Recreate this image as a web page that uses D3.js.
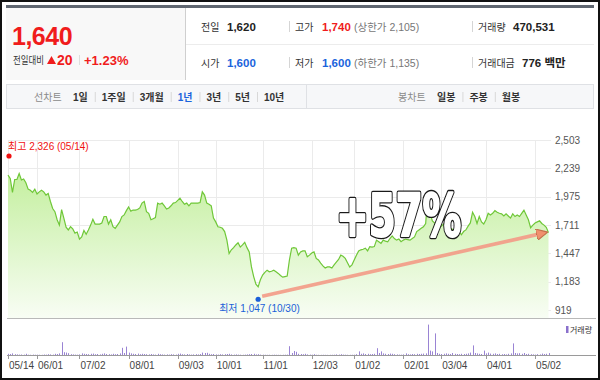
<!DOCTYPE html>
<html>
<head>
<meta charset="utf-8">
<script src="https://cdn.jsdelivr.net/npm/d3@7/dist/d3.min.js"></script>
<style>
body { margin: 0; background: #fff; }
text { font-family: "Liberation Sans", Arial, "Noto Sans CJK KR", sans-serif; }
</style>
</head>
<body>
<script>
const SVG = d3.select("body").append("svg");
const WIDTH = 600;
const HEIGHT = 380;
SVG.attr("width", WIDTH).attr("height", HEIGHT);

// datos: cierre diario (1 año, dias habiles) y volumen (miles de acciones)
const closes = [
  2175,2145,2015,2135,2135,2190,2130,2140,2105,2045,
  2035,2015,2045,2000,2020,2035,2020,1990,2005,1930,
  1865,1835,1760,1710,1855,1775,1690,1665,1695,1675,
  1635,1645,1580,1600,1660,1625,1665,1710,1765,1720,
  1720,1720,1730,1790,1790,1720,1760,1695,1680,1710,
  1740,1790,1805,1845,1880,1840,1850,1850,1855,1870,
  1915,1930,1835,1820,1760,1770,1780,1915,1905,1915,
  1890,1860,1870,1890,1915,1920,1940,1960,1930,1905,
  1915,1890,1915,1915,1915,1915,1920,2020,1990,1915,
  1905,1890,1775,1740,1695,1690,1680,1650,1570,1445,
  1480,1500,1525,1545,1505,1525,1550,1500,1460,1320,
  1230,1160,1135,1200,1245,1270,1290,1275,1280,1290,
  1275,1260,1240,1225,1230,1235,1385,1495,1500,1495,
  1430,1460,1470,1470,1415,1430,1450,1460,1400,1385,
  1355,1330,1310,1320,1320,1310,1340,1365,1390,1430,
  1420,1400,1360,1320,1340,1385,1430,1470,1480,1485,
  1495,1470,1510,1505,1510,1570,1555,1540,1570,1560,
  1555,1585,1610,1585,1570,1580,1555,1570,1580,1575,
  1570,1585,1600,1650,1665,1680,1695,1725,2000,1820,
  1750,1730,1720,1715,1700,1720,1710,1690,1680,1670,
  1660,1665,1650,1620,1650,1665,1700,1730,1830,1790,
  1725,1790,1740,1720,1760,1820,1805,1820,1845,1830,
  1820,1815,1795,1815,1795,1775,1815,1790,1805,1790,
  1820,1850,1805,1760,1685,1710,1730,1740,1750,1725,
  1710,1690,1640
];
const volumes = [
  300,250,400,200,150,100,120,90,300,80,
  60,100,70,80,60,50,120,90,200,150,
  100,300,250,400,3200,700,600,450,200,150,
  100,80,150,400,300,250,200,300,350,200,
  250,150,300,400,250,200,150,300,200,250,
  400,1800,500,2100,600,400,300,250,350,200,
  300,250,200,150,250,150,100,300,200,150,
  100,150,100,200,150,100,300,350,200,150,
  250,150,100,150,200,150,250,600,500,550,
  300,200,250,150,100,200,150,200,250,300,
  150,100,150,100,80,60,100,150,200,250,
  300,150,200,100,80,60,50,60,50,80,
  60,50,40,60,80,100,2200,500,1000,800,
  300,250,200,300,150,100,80,200,60,50,
  40,60,50,40,50,60,80,150,100,200,
  100,80,60,50,60,80,200,900,300,400,
  250,300,200,250,300,1700,500,900,400,300,
  250,350,300,200,150,100,80,150,400,200,
  150,250,200,300,250,300,350,400,7600,1100,
  900,5400,500,300,250,300,400,300,250,500,
  300,250,200,300,250,300,400,600,2400,500,
  400,300,250,1100,400,600,350,300,400,250,
  300,200,250,150,300,400,2900,500,400,450,
  300,500,250,300,200,150,100,200,150,350,
  250,300,470
];
const tickDays = [0, 13, 32, 54, 76, 93, 114, 136, 155, 177, 194, 214, 236];
const tickLabels = ["05/14","06/01","07/02","08/01","09/03","10/01","11/01","12/03","01/02","02/01","03/04","04/01","05/02"];
const priceTicks = [919, 1183, 1447, 1711, 1975, 2239, 2503];

const high = { day: 0, value: 2326, date: "05/14" };
const low = { day: 112, value: 1047, date: "10/30" };
const changeText = "+57%";

// cabecera
const curPrice = "1,640";
const diffValue = "20";
const diffRate = "+1.23%";
const infoLabels = [["전일", "고가", "거래량"], ["시가", "저가", "거래대금"]];
const infoValues = [["1,620", "1,740", "470,531"], ["1,600", "1,600", "776 백만"]];
const infoColors = [["#222", "#f01c1c", "#222"], ["#1a64dc", "#1a64dc", "#222"]];
const limitTexts = ["(상한가 2,105)", "(하한가 1,135)"];
const lineTabs = ["1일", "1주일", "3개월", "1년", "3년", "5년", "10년"];
const candleTabs = ["일봉", "주봉", "월봉"];
const activeTab = "1년";

const RED = "#f01c1c";
const BLUE = "#1a64dc";

// marco
SVG.append("rect").attr("x", 1).attr("y", 1).attr("width", WIDTH - 2).attr("height", HEIGHT - 2)
  .attr("fill", "#fff").attr("stroke", "#111").attr("stroke-width", 2);
SVG.append("rect").attr("x", 6).attr("y", 5).attr("width", 588).attr("height", 3).attr("fill", "#5f6670");

dibujarCabecera();
dibujarTabs();
dibujarGrafico();

function dibujarCabecera() {
  const g = SVG.append("g");
  g.append("rect").attr("x", 6).attr("y", 8).attr("width", 179).attr("height", 72).attr("fill", "#f8f8f8");
  g.append("line").attr("x1", 185.5).attr("x2", 185.5).attr("y1", 8).attr("y2", 80).attr("stroke", "#cfcfcf");
  g.append("line").attr("x1", 186).attr("x2", 594).attr("y1", 44.5).attr("y2", 44.5).attr("stroke", "#ececec");

  g.append("text").attr("x", 12).attr("y", 45).text(curPrice)
    .attr("fill", RED).style("font-size", "25px").style("font-weight", "bold").style("letter-spacing", "-0.5px");
  g.append("text").attr("x", 13).attr("y", 64).text("전일대비")
    .attr("fill", "#333").style("font-size", "10px")
    .attr("textLength", 31).attr("lengthAdjust", "spacingAndGlyphs");
  // triangulo de subida
  g.append("path").attr("d", "M51.5,56 L56,64 L47,64 Z").attr("fill", RED);
  g.append("text").attr("x", 57).attr("y", 65).text(diffValue)
    .attr("fill", RED).style("font-size", "14px").style("font-weight", "bold");
  g.append("line").attr("x1", 79.5).attr("x2", 79.5).attr("y1", 55).attr("y2", 65).attr("stroke", "#ddd");
  g.append("text").attr("x", 84).attr("y", 65).text(diffRate)
    .attr("fill", RED).style("font-size", "13px").style("font-weight", "bold");

  const colX = [201, 295, 478];
  const valX = [227, 322, 513];
  const rowY = [31, 67];
  infoLabels.forEach((row, r) => {
    row.forEach((lab, c) => {
      g.append("text").attr("x", colX[c]).attr("y", rowY[r]).text(lab)
        .attr("fill", "#333").style("font-size", "10px");
      const vx = (r == 1 && c == 2) ? 522 : valX[c];
      g.append("text").attr("x", vx).attr("y", rowY[r]).text(infoValues[r][c])
        .attr("fill", infoColors[r][c]).style("font-size", "11.5px").style("font-weight", "bold");
      if (c > 0) {
        g.append("line").attr("x1", colX[c] - 5.5).attr("x2", colX[c] - 5.5)
          .attr("y1", rowY[r] - 10).attr("y2", rowY[r] + 1).attr("stroke", "#d5d5d5");
      }
    });
    g.append("text").attr("x", 354).attr("y", rowY[r]).text(limitTexts[r])
      .attr("fill", "#777").style("font-size", "10.5px");
  });
}

function dibujarTabs() {
  const g = SVG.append("g");
  g.append("rect").attr("x", 6.5).attr("y", 84.5).attr("width", 587).attr("height", 24)
    .attr("fill", "#f6f7f9").attr("stroke", "#dfe1e5");
  g.append("line").attr("x1", 306.5).attr("x2", 306.5).attr("y1", 85).attr("y2", 108).attr("stroke", "#dfe1e5");

  function fila(titulo, tx, items, startX) {
    g.append("text").attr("x", tx).attr("y", 101).text(titulo)
      .attr("fill", "#8a8a8a").style("font-size", "10px");
    let x = startX;
    items.forEach((it, i) => {
      const t = g.append("text").attr("x", x).attr("y", 101).text(it)
        .attr("fill", it == activeTab ? BLUE : "#333")
        .style("font-size", "10px").style("font-weight", "bold");
      const w = t.node().getComputedTextLength();
      if (i < items.length - 1) {
        g.append("line").attr("x1", x + w + 7.5).attr("x2", x + w + 7.5).attr("y1", 92).attr("y2", 102)
          .attr("stroke", "#d8d8d8");
      }
      x += w + 14;
    });
  }
  fila("선차트", 34, lineTabs, 73);
  fila("봉차트", 398, candleTabs, 437);
}

function dibujarGrafico() {
  const x = d3.scaleLinear().domain([0, closes.length - 1]).range([8, 548.5]);
  const y = d3.scaleLinear().domain([919, 2503]).range([310, 140]);
  const yVol = d3.scaleLinear().domain([0, 8000]).range([355, 323]);

  const g = SVG.append("g");

  // grilla
  g.selectAll(".hgrid").data(priceTicks).join("line")
    .attr("x1", 8).attr("x2", 551)
    .attr("y1", d => Math.round(y(d)) + 0.5).attr("y2", d => Math.round(y(d)) + 0.5)
    .attr("stroke", "#ebebeb");
  g.selectAll(".vgrid").data(tickDays).join("line")
    .attr("x1", d => Math.round(x(d)) + 0.5).attr("x2", d => Math.round(x(d)) + 0.5)
    .attr("y1", 140).attr("y2", 318)
    .attr("stroke", "#ebebeb");

  g.selectAll(".ylab").data(priceTicks).join("text")
    .attr("x", 555).attr("y", d => y(d) + 3.5)
    .text(d => d3.format(",")(d))
    .attr("fill", "#555").style("font-size", "10px");

  // area
  const defs = SVG.append("defs");
  const grad = defs.append("linearGradient").attr("id", "verde")
    .attr("gradientUnits", "userSpaceOnUse").attr("x1", 0).attr("x2", 0).attr("y1", 150).attr("y2", 318);
  grad.append("stop").attr("offset", "0%").attr("stop-color", "#bced92");
  grad.append("stop").attr("offset", "100%").attr("stop-color", "#f8fdf4");

  const area = d3.area().x((d, i) => x(i)).y0(318).y1(d => y(d));
  const linea = d3.line().x((d, i) => x(i)).y(d => y(d));
  g.append("path").datum(closes).attr("d", area).attr("fill", "url(#verde)");
  g.append("path").datum(closes).attr("d", linea)
    .attr("fill", "none").attr("stroke", "#6fc738").attr("stroke-width", 1.2);

  // bordes del panel
  g.append("line").attr("x1", 7).attr("x2", 596).attr("y1", 318.5).attr("y2", 318.5).attr("stroke", "#b9b9b9");
  g.append("line").attr("x1", 7).attr("x2", 596).attr("y1", 355.5).attr("y2", 355.5).attr("stroke", "#9a9a9a");

  // maximo y minimo
  g.append("circle").attr("cx", x(high.day) + 1).attr("cy", y(high.value) - 3).attr("r", 2.6).attr("fill", "#f01010");
  g.append("text").attr("x", 8).attr("y", y(high.value) - 9)
    .text(`최고 ${d3.format(",")(high.value)} (${high.date})`)
    .attr("fill", "#f01010").style("font-size", "10px");
  g.append("circle").attr("cx", x(low.day)).attr("cy", y(low.value) + 3).attr("r", 2.6).attr("fill", "#1a5fd8");
  g.append("text").attr("x", x(low.day) - 39).attr("y", y(low.value) + 15.5)
    .text(`최저 ${d3.format(",")(low.value)} (${low.date})`)
    .attr("fill", "#1a5fd8").style("font-size", "10px");

  // flecha
  const last = closes.length - 1;
  defs.append("marker").attr("id", "punta").attr("viewBox", "0 0 10 10")
    .attr("refX", 8).attr("refY", 5).attr("markerWidth", 3.2).attr("markerHeight", 3.2)
    .attr("markerUnits", "strokeWidth").attr("orient", "auto")
    .append("path").attr("d", "M0,0 L10,5 L0,10 Z")
    .attr("fill", "#f0906e").attr("stroke", "#c2714c").attr("stroke-width", 1);
  g.append("line")
    .attr("x1", x(low.day) + 4).attr("y1", y(low.value))
    .attr("x2", x(last) - 3).attr("y2", y(closes[last]))
    .attr("stroke", "#f39a86").attr("stroke-width", 3.6).attr("stroke-opacity", 0.9)
    .attr("marker-end", "url(#punta)");

  // texto grande: capa negra gruesa debajo y blanca encima
  [["#1a1a1a", 4.6], ["#fff", 2]].forEach(([col, sw]) => {
    g.append("text").attr("x", x(175)).attr("y", y(1650) + 4)
      .attr("text-anchor", "middle").text(changeText)
      .attr("fill", col).attr("stroke", col).attr("stroke-width", sw)
      .attr("stroke-linejoin", "round")
      .attr("textLength", 125).attr("lengthAdjust", "spacingAndGlyphs")
      .style("font-family", "'Liberation Sans Narrow', 'DejaVu Sans Condensed', sans-serif")
      .style("font-size", "58px").style("font-weight", "bold");
  });

  // volumen
  g.selectAll(".vol").data(volumes).join("line")
    .attr("x1", (d, i) => Math.round(x(i)) + 0.5).attr("x2", (d, i) => Math.round(x(i)) + 0.5)
    .attr("y1", yVol(0)).attr("y2", d => yVol(d))
    .attr("stroke", "#9a84d4").attr("stroke-width", 1);

  g.append("rect").attr("x", 566).attr("y", 326).attr("width", 2.5).attr("height", 7).attr("fill", "#8a70cc");
  g.append("text").attr("x", 570).attr("y", 332.5).text("거래량")
    .attr("fill", "#333").style("font-size", "8px");

  // eje x
  g.selectAll(".tick").data(tickDays).join("line")
    .attr("x1", d => Math.round(x(d)) + 0.5).attr("x2", d => Math.round(x(d)) + 0.5)
    .attr("y1", 356).attr("y2", 359).attr("stroke", "#9a9a9a");
  g.selectAll(".xlab").data(tickDays).join("text")
    .attr("x", d => x(d) + 1).attr("y", 369)
    .text((d, i) => tickLabels[i])
    .attr("fill", "#444").style("font-size", "10px");
}
</script>
</body>
</html>
